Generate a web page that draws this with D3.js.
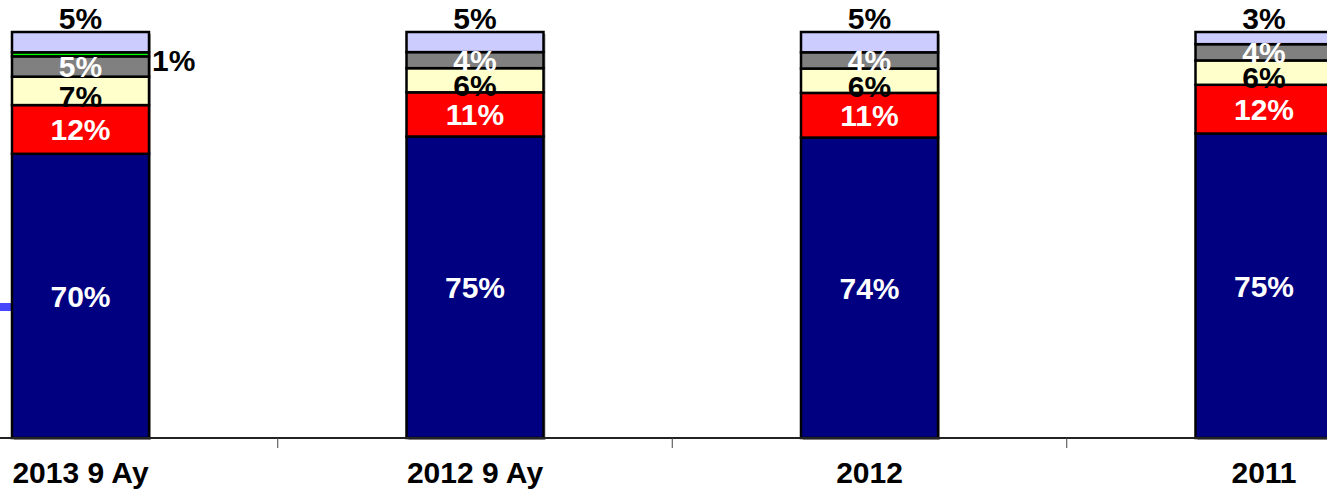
<!DOCTYPE html>
<html>
<head>
<meta charset="utf-8">
<script src="https://cdn.jsdelivr.net/npm/d3@7/dist/d3.min.js"></script>
<style>
  html, body { margin: 0; padding: 0; background: #ffffff; }
  svg { display: block; }
  text { font-family: "Liberation Sans", Arial, sans-serif; font-weight: bold; }
</style>
</head>
<body>
<svg id="chart" width="1327" height="493"></svg>
<script>
// Periods shown on the category axis
const categories = ["2013 9 Ay", "2012 9 Ay", "2012", "2011"];

// Share of each component per period (%), bottom to top of the stack
const navyShare     = [70, 75, 74, 75];
const redShare      = [12, 11, 11, 12];
const yellowShare   = [7, 6, 6, 6];
const greyShare     = [5, 4, 4, 4];
const greenShare    = [1, 0, 0, 0];
const lavenderShare = [5, 5, 5, 3];

const seriesKeys = ["navy", "red", "yellow", "grey", "green", "lavender"];
const seriesValues = {
  navy: navyShare, red: redShare, yellow: yellowShare,
  grey: greyShare, green: greenShare, lavender: lavenderShare
};
const fills = {
  navy: "#000080", red: "#ff0000", yellow: "#ffffcc",
  grey: "#808080", green: "#00ff00", lavender: "#ccccff"
};
const labelColors = {
  navy: "#ffffff", red: "#ffffff", yellow: "#000000",
  grey: "#ffffff", green: "#000000", lavender: "#000000"
};

const rows = categories.map((c, i) => {
  const r = { category: c };
  seriesKeys.forEach(k => { r[k] = seriesValues[k][i]; });
  return r;
});

// 100% stacked layout
const stacked = d3.stack().keys(seriesKeys).offset(d3.stackOffsetExpand)(rows);

const svg = d3.select("#chart");
const baseY = 438, topY = 32;
const x = d3.scaleBand().domain(categories).range([-116.75, 1461.25]);
const y = d3.scaleLinear().domain([0, 1]).range([baseY, topY]);
const barW = 137;
const barX = c => x(c) + (x.bandwidth() - barW) / 2;

// left-hand marker line
svg.append("line")
  .attr("x1", 0).attr("x2", 12).attr("y1", 307).attr("y2", 307)
  .attr("stroke", "#4646ff").attr("stroke-width", 8);

// drop shadow behind each column
svg.append("g").selectAll("rect").data(categories).join("rect")
  .attr("x", c => barX(c) + 2).attr("y", y(1) + 2)
  .attr("width", barW).attr("height", y(0) - y(1))
  .attr("fill", "#a6a6a6");

// stacked segments
const layers = svg.append("g").selectAll("g").data(stacked).join("g")
  .attr("fill", d => fills[d.key]);

layers.selectAll("rect").data(d => d.map(p => ({ key: d.key, p }))).join("rect")
  .filter(d => d.p[1] - d.p[0] > 0)
  .attr("x", d => barX(d.p.data.category))
  .attr("y", d => y(d.p[1]))
  .attr("width", barW)
  .attr("height", d => y(d.p[0]) - y(d.p[1]))
  .attr("stroke", "#000000").attr("stroke-width", 2.5);

// category axis
svg.append("line")
  .attr("x1", 0).attr("x2", 1327).attr("y1", baseY).attr("y2", baseY)
  .attr("stroke", "#222222").attr("stroke-width", 2);

svg.append("g").selectAll("line").data(categories.slice(1)).join("line")
  .attr("x1", c => x(c)).attr("x2", c => x(c))
  .attr("y1", baseY).attr("y2", baseY + 10)
  .attr("stroke", "#444444").attr("stroke-width", 1);

const fontSize = 30;

svg.append("g").selectAll("text").data(categories).join("text")
  .attr("x", c => x(c) + x.bandwidth() / 2)
  .attr("y", 483)
  .attr("text-anchor", "middle")
  .attr("font-size", fontSize)
  .attr("fill", "#000000")
  .text(c => c);

// value labels
const labels = [];
stacked.forEach(layer => {
  layer.forEach(p => {
    const v = p.data[layer.key];
    if (!v) return;
    const cx = barX(p.data.category) + barW / 2;
    const mid = (y(p[0]) + y(p[1])) / 2;
    let lx = cx, ly = mid + fontSize * 0.36, anchor = "middle";
    if (layer.key === "lavender") { ly = y(p[1]) - 3; }
    else if (layer.key === "yellow") { ly += 5; }
    else if (layer.key === "green") { lx = barX(p.data.category) + barW + 3; ly = mid + 17; anchor = "start"; }
    labels.push({ key: layer.key, v, lx, ly, anchor });
  });
});

svg.append("g").selectAll("text").data(labels).join("text")
  .attr("x", d => d.lx).attr("y", d => d.ly)
  .attr("text-anchor", d => d.anchor)
  .attr("font-size", fontSize)
  .attr("fill", d => labelColors[d.key])
  .text(d => d.v + "%");
</script>
</body>
</html>
